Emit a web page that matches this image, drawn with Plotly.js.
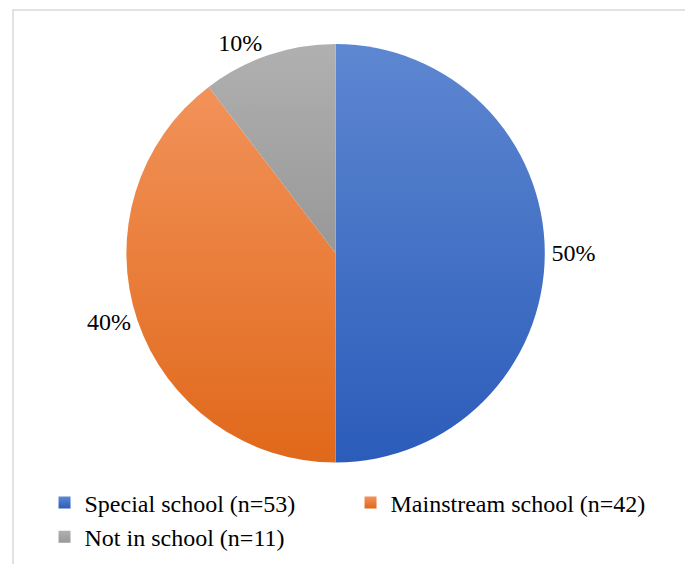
<!DOCTYPE html>
<html>
<head>
<meta charset="utf-8">
<script src="https://cdn.plot.ly/plotly-3.0.1.min.js"></script>
<style>html,body{margin:0;padding:0;background:#fff;}</style>
</head>
<body>
<div id="chart" style="width:685px;height:564px;"></div>
<script>
const categories = ["Special school (n=53)", "Mainstream school (n=42)", "Not in school (n=11)"];
const counts = [53, 42, 11];
const sliceColors = ["#4472C4", "#ED7D31", "#A5A5A5"];
const gradTop = ["#5E87D1", "#F2925A", "#B0B0B0"];
const gradBottom = ["#2B5CBA", "#E0681A", "#989898"];

const serif = "Liberation Serif";

const trace = {
  type: "pie",
  labels: categories,
  values: counts,
  sort: false,
  direction: "clockwise",
  rotation: 0,
  marker: {colors: sliceColors, line: {width: 0}},
  textinfo: "percent",
  texttemplate: "%{percent:.0%}",
  textposition: "outside",
  outsidetextfont: {family: serif, size: 24, color: "#000"},
  hoverinfo: "label+percent",
  domain: {x: [0.07, 0.91], y: [0.18, 0.922]},
  showlegend: true
};

const layout = {
  width: 685,
  height: 564,
  margin: {l: 0, r: 0, t: 0, b: 0},
  paper_bgcolor: "#fff",
  showlegend: true,
  font: {family: serif, size: 24, color: "#000"},
  legend: {
    orientation: "h",
    x: 0.065, xanchor: "left",
    y: 0.008, yanchor: "bottom",
    entrywidth: 261, entrywidthmode: "pixels",
    font: {family: serif, size: 24, color: "#000"},
    traceorder: "normal"
  },
  shapes: [{
    type: "rect", xref: "paper", yref: "paper",
    x0: 13/685, x1: 1.02, y0: -0.02, y1: 1 - 10/564,
    line: {color: "#D9D9D9", width: 1.5}
  }]
};

Plotly.newPlot("chart", [trace], layout, {displayModeBar: false, staticPlot: true}).then(function(gd){
  const svg = gd.querySelector("svg.main-svg");
  const ns = "http://www.w3.org/2000/svg";
  let defs = svg.querySelector("defs");
  if (!defs) { defs = document.createElementNS(ns, "defs"); svg.insertBefore(defs, svg.firstChild); }
  for (let i = 0; i < categories.length; i++) {
    const g = document.createElementNS(ns, "linearGradient");
    g.setAttribute("id", "sliceGrad" + i);
    g.setAttribute("x1", "0"); g.setAttribute("y1", "0");
    g.setAttribute("x2", "0"); g.setAttribute("y2", "1");
    const s1 = document.createElementNS(ns, "stop");
    s1.setAttribute("offset", "0"); s1.setAttribute("stop-color", gradTop[i]);
    const s2 = document.createElementNS(ns, "stop");
    s2.setAttribute("offset", "1"); s2.setAttribute("stop-color", gradBottom[i]);
    g.appendChild(s1); g.appendChild(s2); defs.appendChild(g);
  }
  const slices = gd.querySelectorAll("g.slice path.surface");
  slices.forEach(function(p, i){ p.style.fill = "url(#sliceGrad" + i + ")"; });
  const legendPts = gd.querySelectorAll("g.legend g.traces path.legendpie");
  legendPts.forEach(function(p, i){ p.style.fill = "url(#sliceGrad" + i + ")"; });
});
</script>
</body>
</html>
